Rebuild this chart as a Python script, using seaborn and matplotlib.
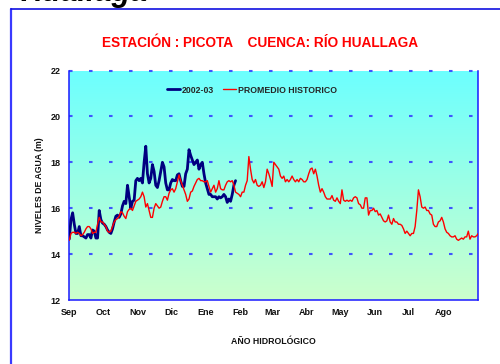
import numpy as np
import pandas as pd
import matplotlib
matplotlib.use("Agg")
import matplotlib.pyplot as plt
from matplotlib.lines import Line2D
from matplotlib.colors import to_rgb
import seaborn as sns

# ---- datos -------------------------------------------------------------
MESES = ["Sep", "Oct", "Nov", "Dic", "Ene", "Feb",
         "Mar", "Abr", "May", "Jun", "Jul", "Ago"]
DIA_INICIO_MES = [0, 30, 61, 91, 122, 153, 181, 212, 242, 273, 303, 334]
DIAS_ANIO = 365
N_MUESTRAS = 247                      # lecturas del año hidrológico
PASO = DIAS_ANIO / (N_MUESTRAS - 1)   # días entre lecturas

NIVEL_TICKS = [12, 14, 16, 18, 20, 22]

# Niveles diarios (m) - año hidrológico 2002-03
nivel_2002_03 = [
    14.66, 15.5, 15.8, 15.3, 14.9, 14.9, 15.2, 14.8, 14.8, 14.75,
    14.7, 14.85, 14.85, 14.7, 15.05, 15.0, 14.7, 14.7, 15.9, 15.5,
    15.35, 15.3, 15.2, 15.05, 14.95, 14.9, 15.1, 15.4, 15.65, 15.7,
    15.6, 15.75, 16.1, 16.3, 16.2, 17.0, 16.5, 16.0,
    16.3, 16.35, 17.2, 17.3, 17.2, 17.3, 17.1, 18.0, 18.7, 17.5,
    17.1, 17.3, 17.9, 17.6, 17.0, 16.9, 17.2, 17.6, 18.0, 17.8,
    17.1, 16.8, 16.8, 17.1, 17.25, 17.2, 17.2, 17.45, 17.5, 17.2,
    16.95, 16.95, 17.5, 17.7, 18.55, 18.3, 18.1, 17.9, 18.0, 18.1,
    17.7, 17.9, 18.0, 17.5, 17.1, 16.85, 16.6, 16.6, 16.5, 16.5,
    16.5, 16.4, 16.5, 16.45, 16.5, 16.6, 16.5, 16.25, 16.4, 16.3,
    16.6, 17.0, 17.2,
]

# Niveles promedio históricos (m)
nivel_historico = [
    14.6, 14.9, 14.95, 14.95, 14.9, 14.95, 14.9, 14.8, 14.85, 14.95,
    15.1, 15.2, 15.2, 15.1, 14.9, 14.95, 14.95, 15.3, 15.6, 15.4,
    15.4, 15.3, 15.2, 15.0, 14.95, 15.0, 15.2, 15.4, 15.5, 15.55,
    15.65, 15.85, 15.8, 15.65, 15.55, 15.85, 15.95,
    16.0, 15.9, 16.1, 16.3, 16.35, 16.4, 16.5, 16.7, 16.5, 16.05,
    16.2, 15.9, 15.6, 15.6, 16.0, 16.2, 16.1, 16.0, 16.05, 16.3,
    16.5, 16.5, 16.35, 16.65, 16.8, 16.85, 16.7, 16.85, 17.15, 17.45,
    17.2, 17.0, 16.8, 16.6, 16.3, 16.4, 16.7, 16.75, 16.95, 17.1,
    17.25, 17.3, 17.2, 17.2, 17.15, 17.15, 17.2, 16.95, 16.7, 16.85,
    17.0, 16.7, 16.85, 17.2, 16.85, 16.8, 16.8, 17.0, 17.15, 17.2,
    17.15, 17.2, 17.0, 16.7, 16.65, 16.6, 16.5, 16.7, 16.7, 17.0,
    17.2, 18.25, 17.7,
    17.25, 17.1, 17.25, 17.0, 16.95, 17.0, 17.15, 16.9, 17.15, 17.7,
    17.5, 17.25, 16.95, 18.0, 17.9, 17.8, 17.7, 17.4, 17.3, 17.4,
    17.15, 17.25, 17.15, 17.25, 17.4, 17.25, 17.15, 17.25, 17.15, 17.3,
    17.25, 17.15, 17.15, 17.25, 17.5, 17.7, 17.75, 17.5, 17.7, 17.4,
    17.0, 16.7, 16.85, 16.7, 16.5, 16.4, 16.4, 16.4, 16.55, 16.35,
    16.3, 16.45, 16.3, 16.2, 16.8, 16.35, 16.3, 16.35, 16.3, 16.35,
    16.3, 16.45, 16.5, 16.45, 16.2, 16.15, 16.0, 16.0, 16.45, 16.45,
    15.7, 15.9, 15.9, 16.0, 15.85, 15.9, 15.7, 15.75, 15.6, 15.45,
    15.4, 15.45, 15.7, 15.4, 15.3, 15.55, 15.4, 15.4, 15.3, 15.3,
    15.25, 15.1, 14.9, 15.0, 14.9, 14.8, 14.9, 14.9, 15.2, 15.9,
    16.8, 16.5, 16.05, 16.0, 16.05, 15.9, 15.9, 15.75, 15.7, 15.3,
    15.2, 15.2, 15.4, 15.45, 15.6, 15.4, 15.1, 14.95, 14.9, 14.8,
    14.75, 14.75, 14.8, 14.65, 14.6, 14.65, 14.7, 14.65, 14.75, 14.75,
    15.0, 14.65, 14.8, 14.75, 14.75, 14.8, 14.9,
]

SERIE_ACTUAL = "2002-03"
SERIE_HIST = "PROMEDIO HISTORICO"

df = pd.concat([
    pd.DataFrame({"dia": np.arange(len(nivel_2002_03)) * PASO,
                  "nivel": nivel_2002_03, "serie": SERIE_ACTUAL}),
    pd.DataFrame({"dia": np.arange(len(nivel_historico)) * PASO,
                  "nivel": nivel_historico, "serie": SERIE_HIST}),
], ignore_index=True)

# ---- estilo ------------------------------------------------------------
sns.set_style("white")
plt.rcParams["font.family"] = ["Liberation Sans", "DejaVu Sans"]
plt.rcParams["font.weight"] = "bold"

AZUL = "#1a1aff"
AZUL_GRID = "#3f55ff"

fig = plt.figure(figsize=(5.0, 3.64), dpi=100)
W, H = 500, 364
ax = fig.add_axes([69.3 / W, 1 - 300 / H, (478.3 - 69.3) / W, (300 - 70.5) / H])

# fondo degradado cian -> verde claro
top = np.array(to_rgb("#6cffff"))
bot = np.array(to_rgb("#ccffcc"))
t = np.linspace(0, 1, 256)[:, None, None]
grad = top * (1 - t) + bot * t
ax.imshow(grad, extent=[0, DIAS_ANIO, 12, 22], aspect="auto",
          origin="upper", zorder=0)

# líneas de nivel discontinuas (trazos cortos, separación amplia)
for v in NIVEL_TICKS[1:]:
    ax.axhline(v, color=AZUL_GRID, lw=1.5, linestyle=(0, (1.7, 7.9)),
               zorder=1, clip_on=False)

sns.lineplot(data=df[df.serie == SERIE_ACTUAL], x="dia", y="nivel",
             color="#000080", lw=2.0, ax=ax, label=SERIE_ACTUAL, zorder=3)
sns.lineplot(data=df[df.serie == SERIE_HIST], x="dia", y="nivel",
             color="#ff0000", lw=1.0, ax=ax, label=SERIE_HIST, zorder=4)

ax.set_xlim(0, DIAS_ANIO)
ax.set_ylim(12, 22)
ax.set_xticks(DIA_INICIO_MES + [DIAS_ANIO])
ax.set_xticklabels(MESES + [""])
ax.set_yticks(NIVEL_TICKS)
ax.set_yticklabels([str(v) for v in NIVEL_TICKS])
ax.tick_params(axis="both", direction="out", length=3, width=1.1,
               color=AZUL, labelsize=6.5, pad=3, labelcolor="#111111")
for lab in ax.get_xticklabels() + ax.get_yticklabels():
    lab.set_fontweight("bold")

for side in ["left", "right", "bottom"]:
    ax.spines[side].set_color(AZUL)
    ax.spines[side].set_linewidth(1.1)
    ax.spines[side].set_visible(True)
ax.spines["top"].set_visible(False)

ax.set_xlabel("AÑO HIDROLÓGICO", fontsize=6.3, fontweight="bold",
              labelpad=14, color="#111111")
ax.set_ylabel("NIVELES DE AGUA (m)", fontsize=6.3, fontweight="bold",
              labelpad=5, color="#111111")

leg = ax.legend(loc="center", bbox_to_anchor=(0.447, 0.915), ncol=2,
                frameon=False, handlelength=1.5, handletextpad=0.25,
                columnspacing=1.0, prop={"size": 6.3, "weight": "bold"})

fig.text(260 / W, 1 - 43 / H, "ESTACIÓN : PICOTA    CUENCA: RÍO HUALLAGA",
         ha="center", va="center", color="#ff0000", fontsize=9.8,
         fontweight="bold")

# encabezado de página, solo asoma su parte inferior
fig.text(148 / W, 1 - 0.5 / H, "Huallaga", ha="right", va="baseline",
         fontsize=22, fontweight="bold", style="italic", color="black")

# marco exterior
fig.add_artist(Line2D([11 / W, 11 / W], [-0.01, 1 - 9 / H],
                      transform=fig.transFigure, color="#3a3aff", lw=1.6))
fig.add_artist(Line2D([11 / W, 1.01], [1 - 9 / H, 1 - 9 / H],
                      transform=fig.transFigure, color="#1010e0", lw=1.2))

fig.savefig("out.png", dpi=100)
